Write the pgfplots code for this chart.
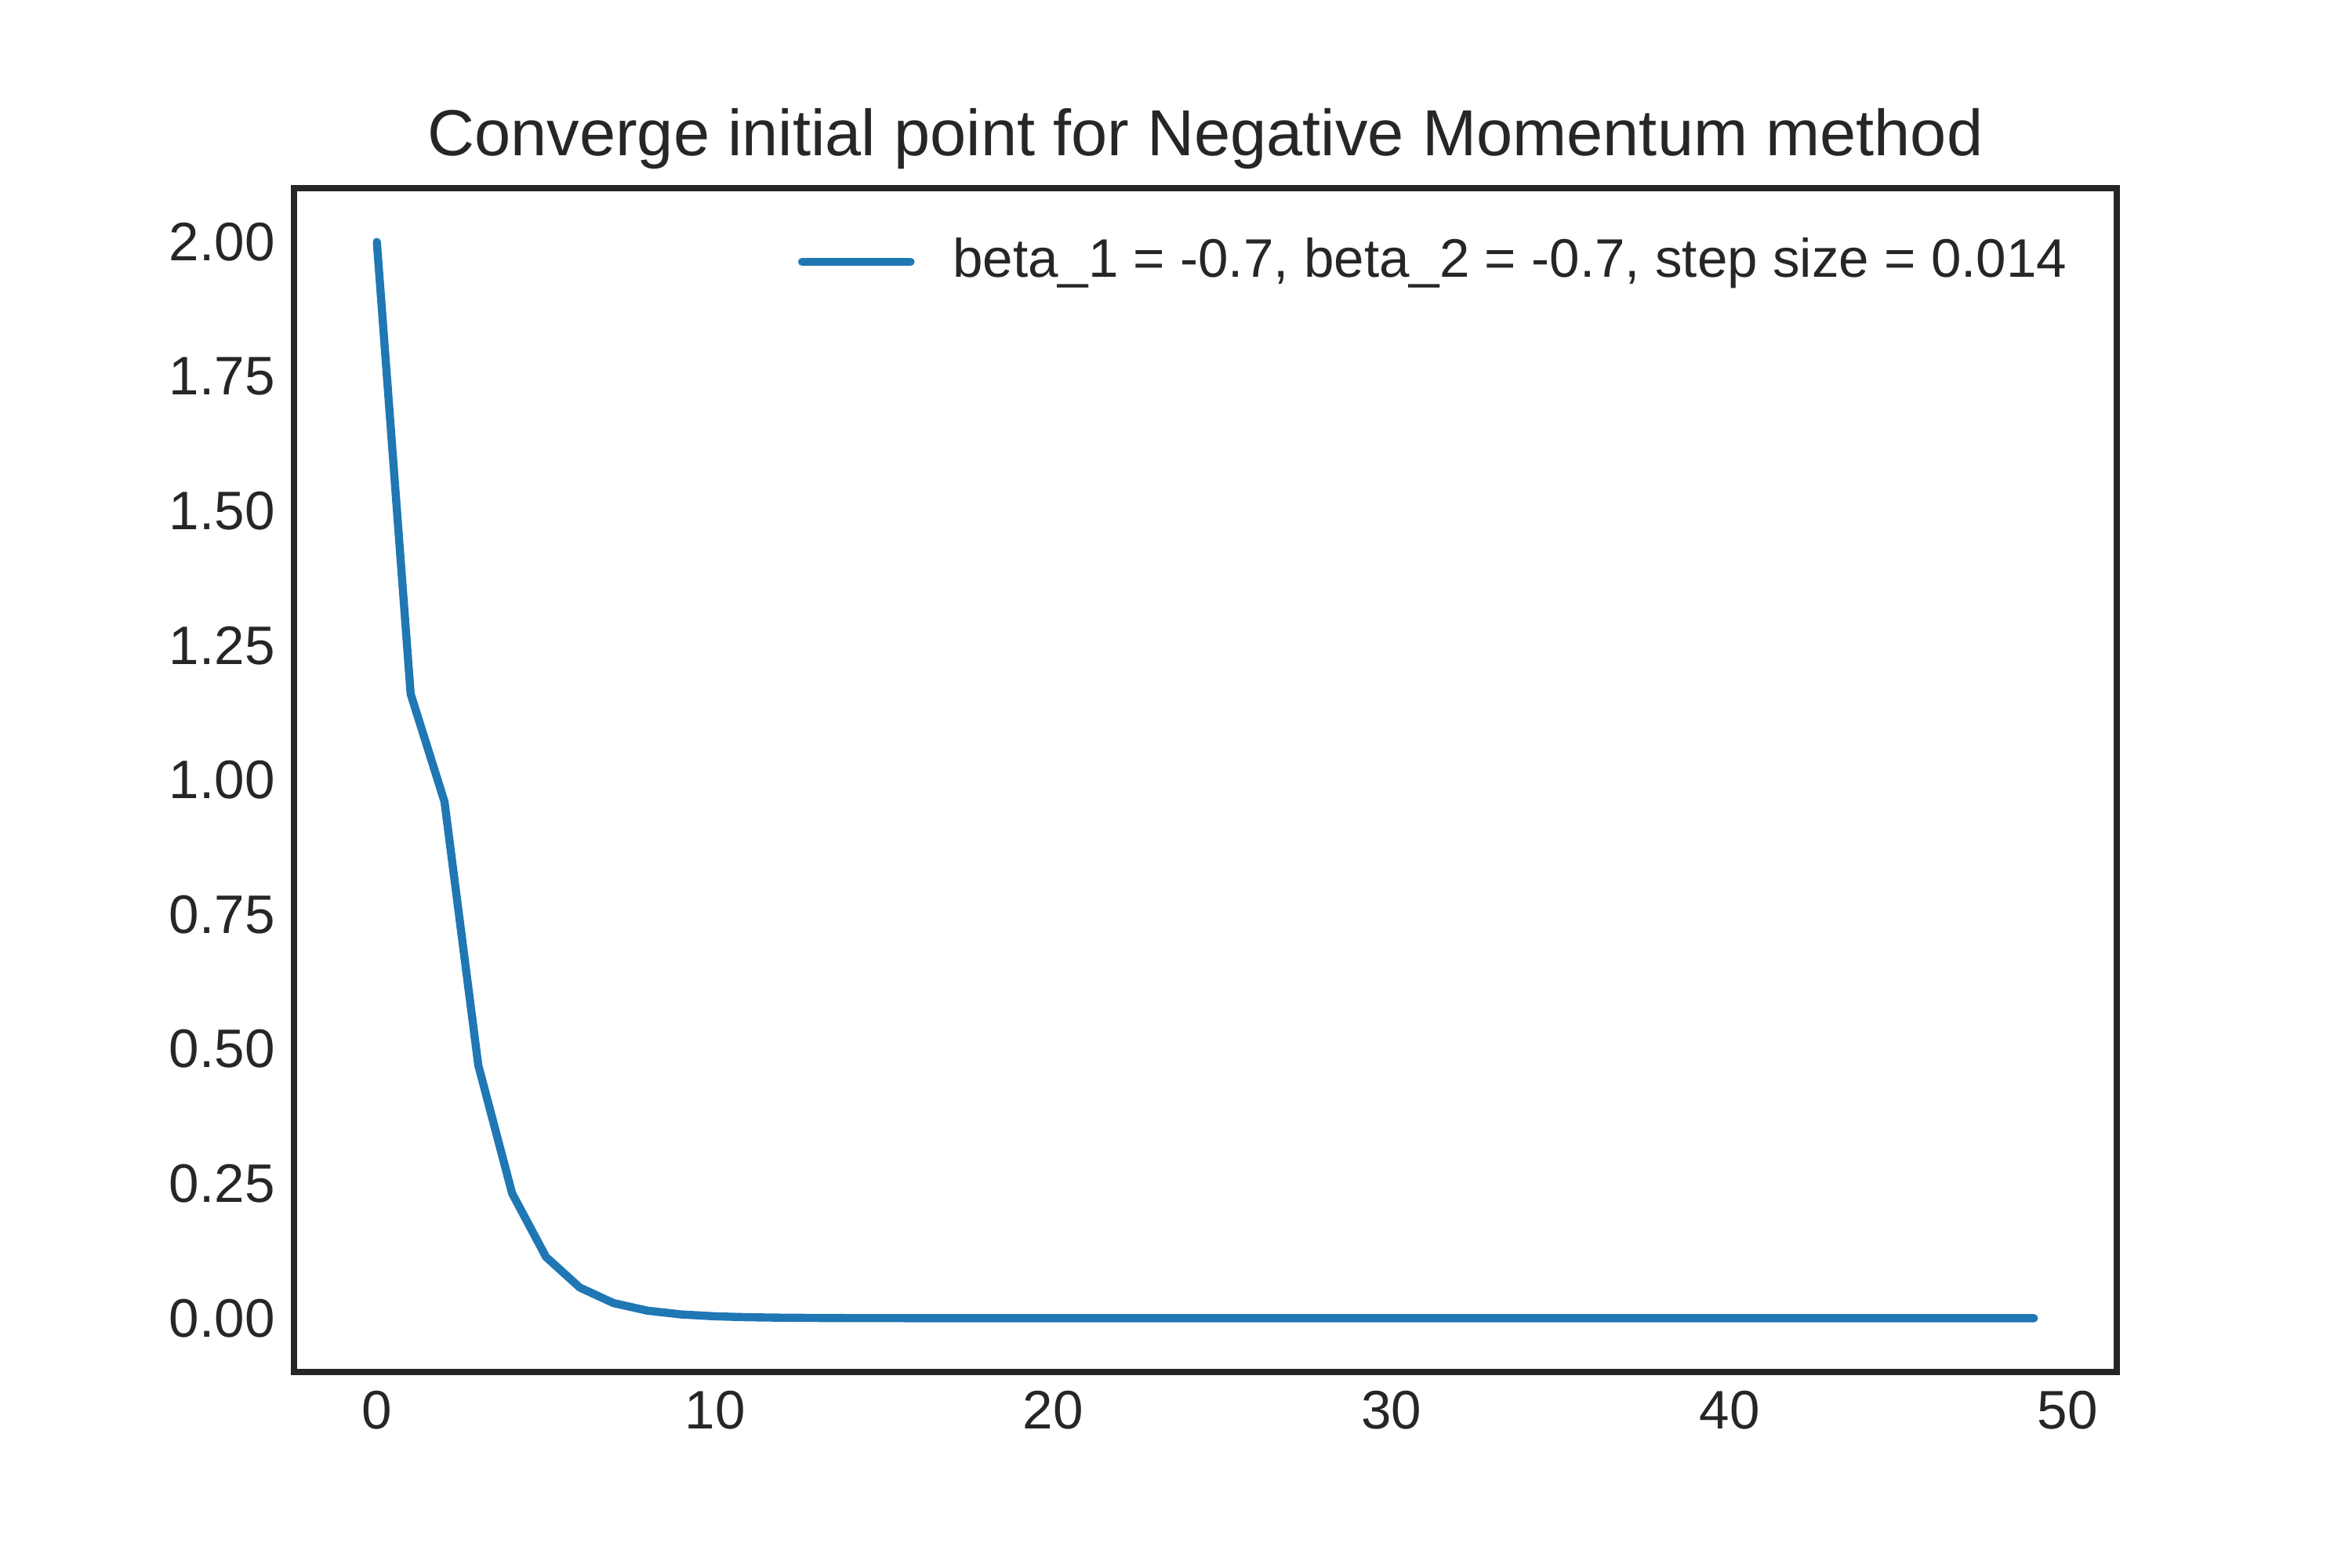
\documentclass[border=0pt]{standalone}
\usepackage{pgfplots}
\pgfplotsset{compat=1.18}
\usepackage{fontspec}
\setmainfont{Liberation Sans}
\definecolor{tabblue}{HTML}{1F77B4}
\definecolor{dark}{HTML}{262626}
\begin{document}
\begin{tikzpicture}
\useasboundingbox (-0.75in,-0.5in) rectangle (5.25in,3.5in);
\begin{axis}[
  at={(0,0)}, anchor=south west,
  scale only axis,
  width=4.65in, height=3.02in,
  xmin=-2.45, xmax=51.45,
  ymin=-0.1, ymax=2.1,
  xtick={0,10,20,30,40,50},
  ytick={0,0.25,0.5,0.75,1.0,1.25,1.5,1.75,2.0},
  yticklabel style={/pgf/number format/fixed, /pgf/number format/fixed zerofill, /pgf/number format/precision=2, xshift=0pt},
  /pgf/number format/assume math mode=true,
  tick style={draw=none},
  major tick length=0pt,
  axis line style={draw=dark, line width=1.25pt},
  ticklabel style={font=\fontsize{10}{12}\selectfont, text=dark},
  xticklabel style={yshift=0pt},
  legend style={at={(rel axis cs:1,1)}, anchor=north east, xshift=-4pt, yshift=-5pt,
    draw=none, fill=none, font=\fontsize{10}{12}\selectfont, text=dark},
  legend cell align=left,
  legend image code/.code={\draw[#1] (0pt,0pt) -- (20pt,0pt); \path (25pt,0pt);},
  clip=false,
]
\addplot[color=tabblue, line width=1.5pt, line join=round, line cap=round] coordinates {
(0,2.0) (1,1.16) (2,0.96) (3,0.47) (4,0.232) (5,0.114) (6,0.057) (7,0.028) (8,0.014) (9,0.007)
(10,0.0035) (11,0.0017) (12,0.0009) (13,0.00045) (14,0.00022) (15,0.00011) (16,0.00005) (17,0.00003) (18,0.00001) (19,0.0)
(20,0) (21,0) (22,0) (23,0) (24,0) (25,0) (26,0) (27,0) (28,0) (29,0)
(30,0) (31,0) (32,0) (33,0) (34,0) (35,0) (36,0) (37,0) (38,0) (39,0)
(40,0) (41,0) (42,0) (43,0) (44,0) (45,0) (46,0) (47,0) (48,0) (49,0)
};
\addlegendentry{beta\_1 = -0.7, beta\_2 = -0.7, step size = 0.014}
\node[anchor=base, font=\fontsize{12}{14}\selectfont, text=dark] at ([yshift=6pt]rel axis cs:0.5,1) {Converge initial point for Negative Momentum method};
\end{axis}
\end{tikzpicture}
\end{document}
